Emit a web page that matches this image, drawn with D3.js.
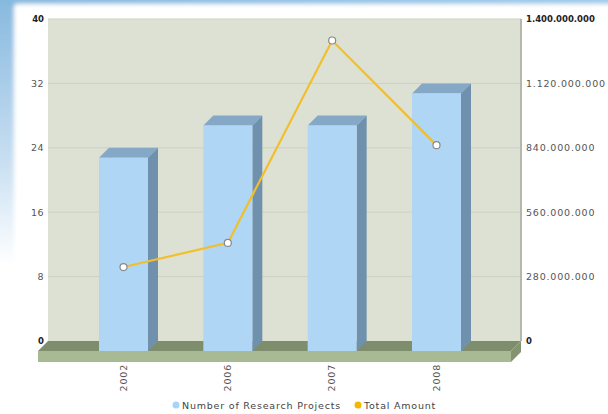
<!DOCTYPE html>
<html>
<head>
<meta charset="utf-8">
<script src="https://cdn.jsdelivr.net/npm/d3@7"></script>
<style>
  html, body { margin: 0; padding: 0; background: #fff; }
  svg { display: block; }
  text { font-family: "DejaVu Sans", Verdana, sans-serif; }
</style>
</head>
<body>
<svg id="chart" width="608" height="414"></svg>
<script>
// Data
const years = ["2002", "2006", "2007", "2008"];
const projects = [24, 28, 28, 32];
const amounts = [365000000, 470000000, 1350000000, 895000000];
const leftTicks = [0, 8, 16, 24, 32, 40];
const rightTicks = [0, 280000000, 560000000, 840000000, 1120000000, 1400000000];
const seriesNames = ["Number of Research Projects", "Total Amount"];

const svg = d3.select("#chart");
const W = 608, H = 414;

// Frame geometry
const wall = { x0: 48, x1: 521, y0: 19, y1: 341 };
const depth = 10;              // 3D offset between back wall and front plane
const floorH = 11;             // thickness of the floor slab

const defs = svg.append("defs");
const gTop = defs.append("linearGradient").attr("id", "gTop").attr("x1", 0).attr("x2", 1).attr("y1", 0).attr("y2", 0);
gTop.append("stop").attr("offset", 0).attr("stop-color", "#86b8de");
gTop.append("stop").attr("offset", 1).attr("stop-color", "#9fcbeb");
const gLeft = defs.append("linearGradient").attr("id", "gLeft").attr("x1", 0).attr("x2", 0).attr("y1", 0).attr("y2", 1);
gLeft.append("stop").attr("offset", 0).attr("stop-color", "#86b8de");
gLeft.append("stop").attr("offset", 0.45).attr("stop-color", "#c6def1");
gLeft.append("stop").attr("offset", 0.75).attr("stop-color", "#ffffff");
defs.append("filter").attr("id", "soft").append("feGaussianBlur").attr("stdDeviation", 2);

// Page backdrop
svg.append("rect").attr("width", W).attr("height", H).attr("fill", "#fff");
const bg = svg.append("g").attr("filter", "url(#soft)");
bg.append("rect").attr("x", -5).attr("y", -5).attr("width", 20).attr("height", 360).attr("fill", "url(#gLeft)");
bg.append("rect").attr("x", -5).attr("y", -5).attr("width", W + 10).attr("height", 9).attr("fill", "url(#gTop)");
bg.append("rect").attr("x", 14).attr("y", 4).attr("width", W - 10).attr("height", H).attr("rx", 4).attr("fill", "#fff");

// Scales
const yL = d3.scaleLinear().domain([0, 40]).range([wall.y1, wall.y0]);
const yR = d3.scaleLinear().domain([0, 1400000000]).range([wall.y1, wall.y0]);
const x = d3.scalePoint().domain(years).range([123.5, 436.5]);
const barW = 49;

// Back wall
svg.append("rect").attr("x", wall.x0).attr("y", wall.y0)
  .attr("width", wall.x1 - wall.x0).attr("height", wall.y1 - wall.y0).attr("fill", "#dde1d3");
svg.append("g").selectAll("line").data(leftTicks.filter(d => d > 0)).join("line")
  .attr("x1", wall.x0).attr("x2", wall.x1)
  .attr("y1", d => yL(d)).attr("y2", d => yL(d))
  .attr("stroke", "#cdd1c4").attr("stroke-width", 1);
svg.append("line").attr("x1", wall.x1).attr("x2", wall.x1).attr("y1", wall.y0).attr("y2", wall.y1)
  .attr("stroke", "#b4b8aa").attr("stroke-width", 2);

// Floor slab
const fx0 = wall.x0 - depth, fx1 = wall.x1 - depth, fy = wall.y1 + depth;
svg.append("path").attr("fill", "#7e8d6c")
  .attr("d", `M${wall.x0},${wall.y1}L${wall.x1},${wall.y1}L${fx1},${fy}L${fx0},${fy}Z`);
svg.append("path").attr("fill", "#a8ba93")
  .attr("d", `M${fx0},${fy}L${fx1},${fy}L${fx1},${fy + floorH}L${fx0},${fy + floorH}Z`);
svg.append("path").attr("fill", "#849470")
  .attr("d", `M${fx1},${fy}L${wall.x1},${wall.y1}L${wall.x1},${wall.y1 + floorH}L${fx1},${fy + floorH}Z`);

// 3D bars (front plane is shifted by -depth in x and +depth in y)
const bars = svg.append("g").selectAll("g").data(years).join("g");
bars.each(function (yr, i) {
  const g = d3.select(this);
  const l = x(yr) - barW / 2, r = x(yr) + barW / 2;
  const top = yL(projects[i]) + depth, bot = yL(0) + depth;
  g.append("path").attr("fill", "#86a8c7")
    .attr("d", `M${l},${top}L${l + depth},${top - depth}L${r + depth},${top - depth}L${r},${top}Z`);
  g.append("path").attr("fill", "#7091ad")
    .attr("d", `M${r},${top}L${r + depth},${top - depth}L${r + depth},${bot - depth}L${r},${bot}Z`);
  g.append("rect").attr("x", l).attr("y", top).attr("width", barW).attr("height", bot - top).attr("fill", "#b0d6f5");
});

// Total amount line on the front plane
const line = d3.line().x((d, i) => x(years[i])).y(d => yR(d) + depth);
svg.append("path").datum(amounts).attr("d", line)
  .attr("fill", "none").attr("stroke", "#f2bf2c").attr("stroke-width", 2.2);
svg.append("g").selectAll("circle").data(amounts).join("circle")
  .attr("cx", (d, i) => x(years[i])).attr("cy", d => yR(d) + depth).attr("r", 3.5)
  .attr("fill", "#fff").attr("stroke", "#8a8a8a").attr("stroke-width", 1.2);

// Left axis labels (end ticks in bold)
const isEndL = d => d === 0 || d === 40;
svg.append("g").selectAll("text").data(leftTicks).join("text")
  .attr("x", 44).attr("y", d => yL(d)).attr("dy", "0.35em").attr("text-anchor", "end")
  .attr("font-size", d => isEndL(d) ? 8.5 : 9.5).attr("letter-spacing", d => isEndL(d) ? 0 : 0.5)
  .attr("fill", d => isEndL(d) ? "#222" : "#555")
  .attr("font-weight", d => isEndL(d) ? "bold" : "normal")
  .text(d => d);

// Right axis labels (end ticks in bold)
const fmt = v => d3.format(",")(v).replace(/,/g, ".");
const isEndR = (d, i) => i === 0 || i === rightTicks.length - 1;
svg.append("g").selectAll("text").data(rightTicks).join("text")
  .attr("x", 526).attr("y", d => yR(d)).attr("dy", "0.35em").attr("text-anchor", "start")
  .attr("font-size", (d, i) => isEndR(d, i) ? 8.5 : 9.5)
  .attr("letter-spacing", (d, i) => isEndR(d, i) ? 0 : 0.8)
  .attr("fill", (d, i) => isEndR(d, i) ? "#222" : "#555")
  .attr("font-weight", (d, i) => isEndR(d, i) ? "bold" : "normal")
  .text(fmt);

// Category labels, rotated
svg.append("g").selectAll("text").data(years).join("text")
  .attr("transform", d => `translate(${x(d)},${364}) rotate(-90)`)
  .attr("dy", "0.35em").attr("text-anchor", "end")
  .attr("font-size", 9.5).attr("letter-spacing", 0.8).attr("fill", "#555").text(d => d);

// Legend
const legendColors = ["#a9d3f6", "#f4b800"];
const legendX = [176, 358];
const lg = svg.append("g").selectAll("g").data(seriesNames).join("g")
  .attr("transform", (d, i) => `translate(${legendX[i]},406)`);
lg.append("circle").attr("r", 3.5).attr("cy", -1).attr("fill", (d, i) => legendColors[i]);
lg.append("text").attr("x", 6).attr("dy", "0.3em").attr("font-size", 9.5).attr("letter-spacing", 0.8)
  .attr("fill", "#444").text(d => d);
</script>
</body>
</html>
